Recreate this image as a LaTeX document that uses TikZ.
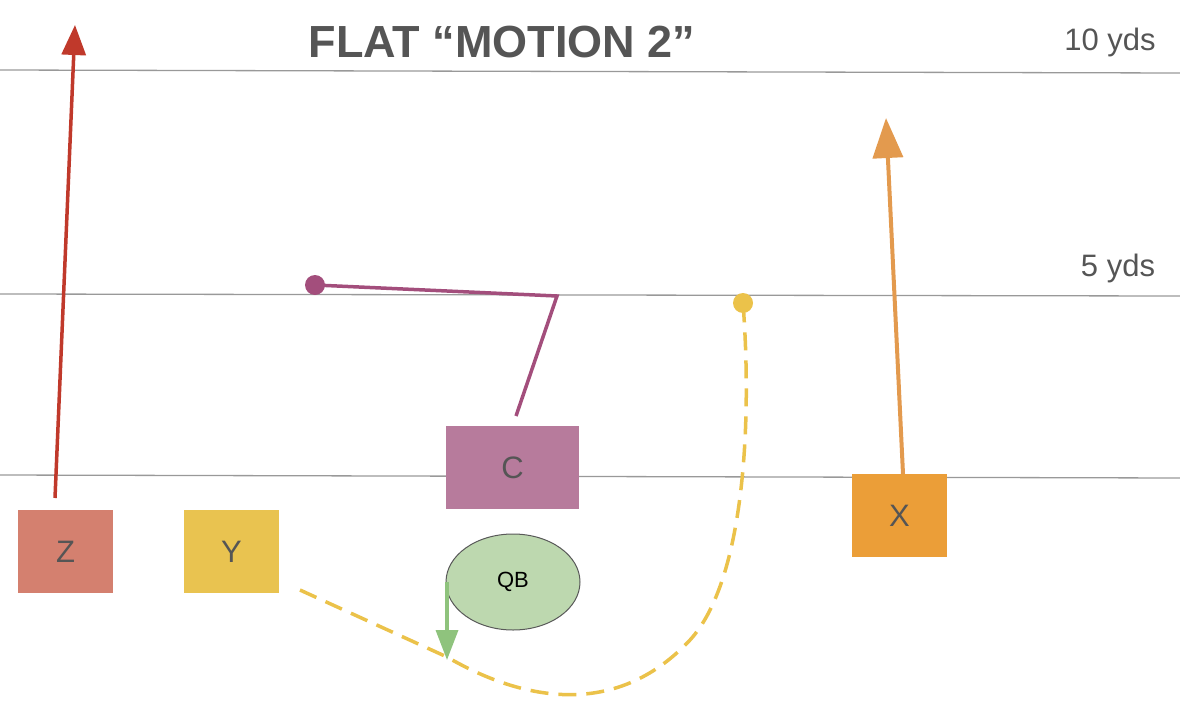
\documentclass[tikz,border=0pt]{standalone}
\usepackage{fontspec}
\setmainfont{Liberation Sans}
\usetikzlibrary{arrows.meta,shapes.geometric}
\definecolor{zc}{HTML}{D4806F}\definecolor{yc}{HTML}{E9C350}
\definecolor{cc}{HTML}{B77B9C}\definecolor{xc}{HTML}{EB9E38}
\definecolor{qc}{HTML}{BDD8AF}\definecolor{txt}{HTML}{555555}
\definecolor{zr}{HTML}{C0392B}\definecolor{xr}{HTML}{E39A4E}
\definecolor{cr}{HTML}{A34E7C}\definecolor{yr}{HTML}{EBC24A}\definecolor{qr}{HTML}{8FC37D}
\begin{document}
\begin{tikzpicture}[x=1pt,y=-1pt,
 box/.style={draw=none,inner sep=0,font=\fontsize{31}{33}\selectfont,text=txt},
 yl/.style={draw=gray!80,line width=1.3pt},
 lbl/.style={font=\fontsize{31}{33}\selectfont,text=txt}]
\useasboundingbox (0,0) rectangle (1180,720);
\draw[yl] (0,70) -- (1180,73);
\draw[yl] (0,294) -- (1180,296);
\draw[yl] (0,475) -- (1180,478);
\node[font=\bfseries\fontsize{45}{48}\selectfont,text=txt] (title) at (502,42) {FLAT “MOTION 2”};
\node[lbl] (t10) at (1110,42) {10 yds};
\node[lbl] (t5) at (1118,268) {5 yds};
\node[box,fill=zc,minimum width=95,minimum height=83] (Z) at (65.5,551.5) {Z};
\node[box,fill=yc,minimum width=95,minimum height=83] (Y) at (231.5,551.5) {Y};
\node[box,fill=cc,minimum width=133,minimum height=83] (C) at (512.5,467.5) {C};
\node[box,fill=xc,minimum width=95,minimum height=83] (X) at (899.5,515.5) {X};
\node[draw=gray!70!black,line width=1pt,fill=qc,ellipse,minimum width=134,minimum height=96,inner sep=0,font=\fontsize{22}{24}\selectfont] (QB) at (513,582) {QB};
\coordinate (za) at (75,25); \coordinate (zs) at (55,498);
\draw[zr,line width=3.5pt,-{Triangle[length=30pt,width=24pt]}] (zs) -- (za);
\coordinate (xa) at (886,118); \coordinate (xs) at (903,474);
\draw[xr,line width=4pt,-{Triangle[length=40pt,width=30pt]}] (xs) -- (xa);
\coordinate (c1) at (516,416); \coordinate (c2) at (557,296); \coordinate (c3) at (315,285);
\draw[cr,line width=3.5pt] (c1) -- (c2) -- (c3);
\fill[cr] (c3) circle (10);
\coordinate (y1) at (300,590); \coordinate (y2) at (447,657); \coordinate (y3) at (690,640); \coordinate (y4) at (743,303);
\draw[yr,line width=3.5pt,dash pattern=on 18pt off 10pt] (y1) -- (y2) .. controls (530,705) and (620,715) .. (y3) .. controls (745,580) and (752,420) .. (y4);
\fill[yr] (y4) circle (10);
\coordinate (q1) at (447,582); \coordinate (q2) at (447,660);
\draw[qr,line width=3.5pt,-{Triangle[length=30pt,width=22pt]}] (q1) -- (q2);
\end{tikzpicture}
\end{document}
